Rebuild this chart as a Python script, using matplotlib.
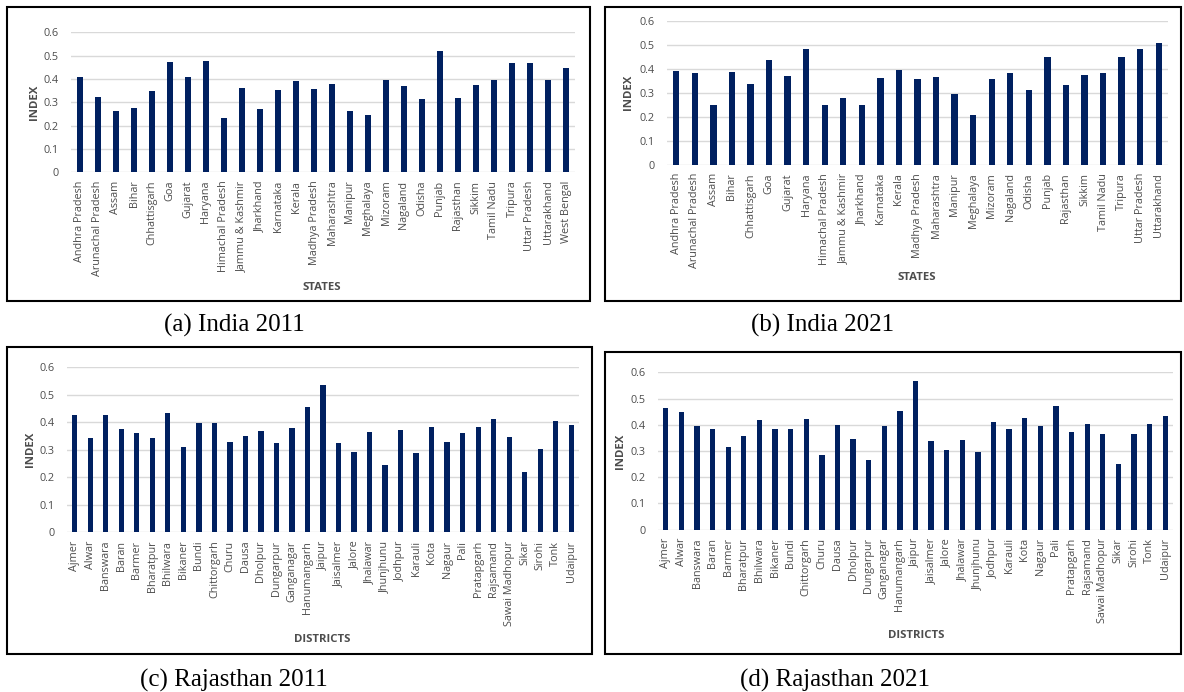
import matplotlib
matplotlib.use("Agg")
import matplotlib.pyplot as plt
from matplotlib.patches import Rectangle

states_2011 = ["Andhra Pradesh", "Arunachal Pradesh", "Assam", "Bihar", "Chhattisgarh",
               "Goa", "Gujarat", "Haryana", "Himachal Pradesh", "Jammu & Kashmir",
               "Jharkhand", "Karnataka", "Kerala", "Madhya Pradesh", "Maharashtra",
               "Manipur", "Meghalaya", "Mizoram", "Nagaland", "Odisha", "Punjab",
               "Rajasthan", "Sikkim", "Tamil Nadu", "Tripura", "Uttar Pradesh",
               "Uttarakhand", "West Bengal"]
index_india_2011 = [0.407, 0.321, 0.263, 0.277, 0.350, 0.473, 0.407, 0.479, 0.234, 0.360,
                    0.271, 0.354, 0.393, 0.357, 0.379, 0.263, 0.244, 0.396, 0.370, 0.316,
                    0.520, 0.319, 0.373, 0.396, 0.470, 0.467, 0.396, 0.446]

states_2021 = states_2011[:-1]
index_india_2021 = [0.390, 0.382, 0.247, 0.388, 0.335, 0.436, 0.368, 0.482, 0.247, 0.276,
                    0.247, 0.363, 0.396, 0.358, 0.364, 0.293, 0.206, 0.358, 0.382, 0.311,
                    0.447, 0.332, 0.372, 0.382, 0.447, 0.482, 0.506]

districts = ["Ajmer", "Alwar", "Banswara", "Baran", "Barmer", "Bharatpur", "Bhilwara",
             "Bikaner", "Bundi", "Chittorgarh", "Churu", "Dausa", "Dholpur", "Dungarpur",
             "Ganganagar", "Hanumangarh", "Jaipur", "Jaisalmer", "Jalore", "Jhalawar",
             "Jhunjhunu", "Jodhpur", "Karauli", "Kota", "Nagaur", "Pali", "Pratapgarh",
             "Rajsamand", "Sawai Madhopur", "Sikar", "Sirohi", "Tonk", "Udaipur"]
index_raj_2011 = [0.424, 0.343, 0.424, 0.374, 0.359, 0.343, 0.432, 0.308, 0.398, 0.398,
                  0.326, 0.348, 0.368, 0.324, 0.378, 0.453, 0.534, 0.324, 0.291, 0.364,
                  0.243, 0.370, 0.287, 0.381, 0.328, 0.362, 0.383, 0.411, 0.346, 0.218,
                  0.302, 0.403, 0.388]
index_raj_2021 = [0.465, 0.449, 0.396, 0.384, 0.315, 0.357, 0.418, 0.384, 0.384, 0.421,
                  0.286, 0.399, 0.346, 0.264, 0.396, 0.451, 0.565, 0.338, 0.304, 0.343,
                  0.296, 0.409, 0.384, 0.424, 0.394, 0.471, 0.372, 0.403, 0.363, 0.249,
                  0.366, 0.403, 0.433]

W, H = 1184, 692
BAR = "#002060"
GREY = "#4d4d4d"
plt.rcParams["font.family"] = ["Open Sans", "DejaVu Sans"]

fig = plt.figure(figsize=(W / 100, H / 100), dpi=100)


def box(x0, y0, x1, y1):
    fig.patches.append(Rectangle((x0 / W, 1 - y1 / H), (x1 - x0) / W, (y1 - y0) / H,
                                 transform=fig.transFigure, fill=False,
                                 edgecolor="black", linewidth=1.5))


def panel(x0, y0, x1, y1, names, vals, xlabel, ylab_x, xlab_pos):
    ax = fig.add_axes([x0 / W, 1 - y1 / H, (x1 - x0) / W, (y1 - y0) / H])
    pos = range(len(names))
    ax.bar(pos, vals, width=0.34, color=BAR, zorder=3)
    ax.set_xlim(-0.5, len(names) - 0.5)
    ax.set_ylim(0, 0.6)
    ax.set_yticks([0, 0.1, 0.2, 0.3, 0.4, 0.5, 0.6])
    ax.set_yticklabels(["0", "0.1", "0.2", "0.3", "0.4", "0.5", "0.6"])
    ax.set_xticks(list(pos))
    ax.set_xticklabels(names, rotation=90)
    ax.tick_params(length=0, labelsize=7.8, labelcolor=GREY)
    ax.tick_params(axis="y", pad=9)
    ax.tick_params(axis="x", pad=6)
    ax.grid(axis="y", color="#d9d9d9", linewidth=1, zorder=0)
    for s in ax.spines.values():
        s.set_visible(False)
    fig.text(ylab_x / W, 1 - (y0 + y1) / 2 / H, "INDEX", rotation=90, ha="center",
             va="center", fontsize=8.2, fontweight="bold", color=GREY)
    fig.text(xlab_pos[0] / W, 1 - xlab_pos[1] / H, xlabel, ha="center", va="center",
             fontsize=8.2, fontweight="bold", color=GREY)
    return ax


box(7, 7, 590, 301)
box(605, 7, 1181, 301)
box(7, 347, 592, 654)
box(605, 352, 1181, 654)

panel(71, 32.3, 575, 172.3, states_2011, index_india_2011, "STATES", 35, (322, 287))
panel(667, 20.7, 1168, 164.7, states_2021, index_india_2021, "STATES", 629, (917, 277))
panel(67, 367, 579, 532.3, districts, index_raj_2011, "DISTRICTS", 30, (322, 639))
panel(658, 372.3, 1173, 529.7, districts, index_raj_2021, "DISTRICTS", 621, (916, 635))

caps = [("(a) India 2011", 234, 325), ("(b) India 2021", 823, 325),
        ("(c) Rajasthan 2011", 234, 680), ("(d) Rajasthan 2021", 835, 680)]
for txt, cx, cy in caps:
    fig.text(cx / W, 1 - cy / H, txt, ha="center", va="center", fontsize=18,
             family=["Liberation Serif", "DejaVu Serif"])

fig.savefig("out.png", dpi=100)
